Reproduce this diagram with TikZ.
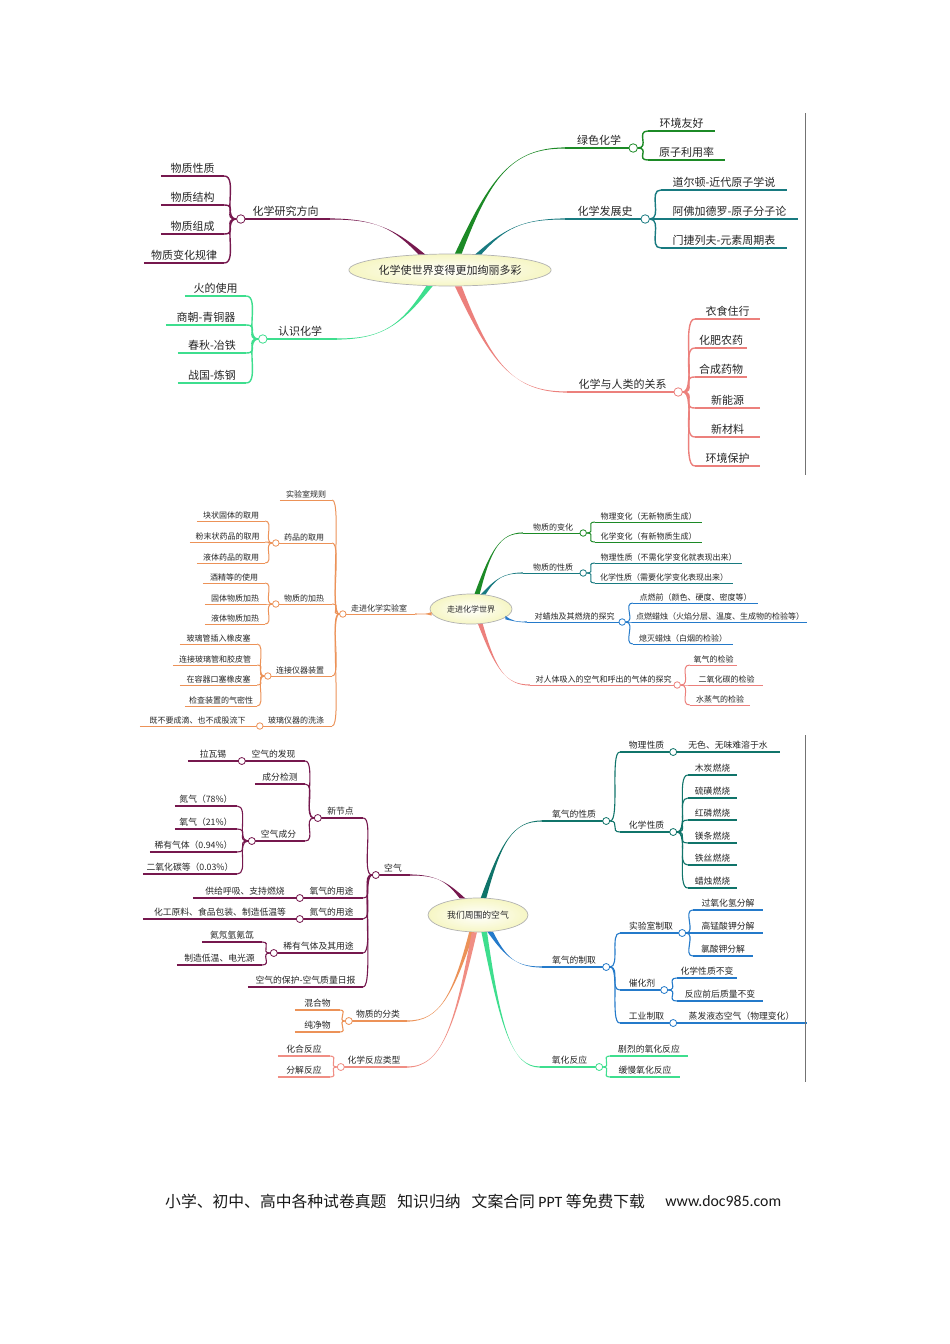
\documentclass[tikz,border=0pt]{standalone}
\usepackage{fontspec}
\setmainfont{Noto Sans CJK SC}
\newfontfamily\latin{Carlito}
\usetikzlibrary{positioning,calc,shapes.geometric}

\definecolor{mgreen}{RGB}{28,138,38}
\definecolor{mteal}{RGB}{24,122,128}
\definecolor{msalmon}{RGB}{236,128,124}
\definecolor{mspring}{RGB}{62,222,142}
\definecolor{mmaroon}{RGB}{118,24,78}
\definecolor{morange}{RGB}{236,146,88}
\definecolor{mblue}{RGB}{36,122,202}
\definecolor{mpine}{RGB}{16,116,106}
\definecolor{mpink}{RGB}{240,142,132}
\definecolor{coreyellow}{RGB}{246,246,196}
\colorlet{br}{black}
\def\tw{1.3pt}
\def\hs{8pt}

% tapered main branch: [start offset]{start}{end}
\newcommand\trunk[3][2.4,0]{%
  \fill[br] ($(#2)-(#1)$) .. controls ($(#2)!0.6!(#2|-#3)!0.3!(#3)$) and ($(#2|-#3)!0.5!(#3)$) .. ($(#3)+(0,-0.6)$)
    -- ($(#3)+(0,0.6)$) .. controls ($(#2|-#3)!0.5!(#3)$) and ($(#2)!0.6!(#2|-#3)!0.3!(#3)$) .. ($(#2)+(#1)$) -- cycle;}

\begin{document}
\begin{tikzpicture}[x=1pt,y=-1pt,
  leaf/.style={anchor=south, inner xsep=0pt, inner ysep=1.8pt, minimum width=#1, text=black!85,
    append after command={(\tikzlastnode.south west) edge[twig] (\tikzlastnode.south east)}},
  twig/.style={draw=br, line width=\tw},
  hub/.style={circle, draw=br, fill=white, inner sep=0pt, minimum size=\hs, line width=0.8pt},
  forkR/.style={twig, out=0, in=180, distance=#1},
  forkL/.style={twig, out=180, in=0, distance=#1},
  core/.style={ellipse, draw=black!30, line width=0.7pt, shade, inner color=white, outer color=coreyellow, inner sep=0pt, text=black!85},
  frame/.style={draw=black!55, line width=0.8pt}]

\useasboundingbox[fill=white] (0,0) rectangle (950,1344);

%% map 1
\begin{scope}[every node/.append style={font=\fontsize{11}{13}\selectfont}, leaf/.append style={inner ysep=2.6pt}]
\def\tw{1.4pt}\def\hs{8.5pt}
\node[core, minimum width=196, minimum height=32] (c1) at (450,270) {化学使世界变得更加绚丽多彩};
% 绿色化学
\colorlet{br}{mgreen}
\node[leaf=68] (gc) at (599,148) {绿色化学};
\trunk[3.4,0]{c1.63}{gc.south west}
\node[hub] (gch) at (gc.south east) {};
\node[leaf=67] (gc1) at (681.5,131) {环境友好};
\node[leaf=77] (gc2) at (686.5,160) {原子利用率};
\foreach \k in {1,2} \draw[forkR=12pt] (gch) to (gc\k.south west);
% 化学发展史
\colorlet{br}{mteal}
\node[leaf=80] (fz) at (605,219) {化学发展史};
\trunk[3,0]{c1.29}{fz.south west}
\node[hub] (fzh) at (fz.south east) {};
\node[leaf=126] (fz1) at (724,190) {道尔顿-近代原子学说};
\node[leaf=137] (fz2) at (729.5,219) {阿佛加德罗-原子分子论};
\node[leaf=126] (fz3) at (724,248) {门捷列夫-元素周期表};
\foreach \k in {1,2,3} \draw[forkR=13pt] (fzh) to (fz\k.south west);
% 化学与人类的关系
\colorlet{br}{msalmon}
\node[leaf=111] (rl) at (622.5,392) {化学与人类的关系};
\trunk[3.4,0]{c1.297}{rl.south west}
\node[hub] (rlh) at (rl.south east) {};
\node[leaf=65] (rl1) at (727.5,319) {衣食住行};
\node[leaf=52] (rl2) at (721,348) {化肥农药};
\node[leaf=52] (rl3) at (721,377) {合成药物};
\node[leaf=65] (rl4) at (727.5,408) {新能源};
\node[leaf=65] (rl5) at (727.5,437) {新材料};
\node[leaf=65] (rl6) at (727.5,466) {环境保护};
\foreach \k in {1,...,6} \draw[forkR=14pt] (rlh) to (rl\k.south west);
% 化学研究方向
\colorlet{br}{mmaroon}
\node[leaf=89] (yf) at (285.5,219) {化学研究方向};
\trunk[3.4,0]{c1.151}{yf.south east}
\node[hub] (yfh) at (yf.south west) {};
\node[leaf=63] (yf1) at (192.5,176) {物质性质};
\node[leaf=63] (yf2) at (192.5,205) {物质结构};
\node[leaf=63] (yf3) at (192.5,234) {物质组成};
\node[leaf=80] (yf4) at (184,263) {物质变化规律};
\foreach \k in {1,...,4} \draw[forkL=14pt] (yfh) to (yf\k.south east);
% 认识化学
\colorlet{br}{mspring}
\node[leaf=74] (rs) at (300,339) {认识化学};
\trunk[3.2,0]{c1.218}{rs.south east}
\node[hub] (rsh) at (rs.south west) {};
\node[leaf=61] (rs1) at (215.5,296) {火的使用};
\node[leaf=80] (rs2) at (206,325) {商朝-青铜器};
\node[leaf=68] (rs3) at (212,353) {春秋-冶铁};
\node[leaf=68] (rs4) at (212,383) {战国-炼钢};
\foreach \k in {1,...,4} \draw[forkL=14pt] (rsh) to (rs\k.south east);
\end{scope}
\draw[frame] (805,113) -- (805,475);

%% map 2
\begin{scope}[every node/.append style={font=\fontsize{8}{10}\selectfont}]
\def\tw{1pt}\def\hs{6.5pt}
\node[core, minimum width=82, minimum height=30] (c2) at (471,609) {走进化学世界};
% 走进化学实验室
\colorlet{br}{morange}
\node[leaf=72] (sy) at (379,614) {走进化学实验室};
\trunk[0,1.8]{c2.187}{sy.south east}
\node[hub] (syh) at (sy.south west) {};
\node[leaf=52] (sy1) at (306,500) {实验室规则};
\node[leaf=56] (sy2) at (304,543) {药品的取用};
\node[leaf=56] (sy3) at (304,604) {物质的加热};
\node[leaf=64] (sy4) at (300,676) {连接仪器装置};
\node[leaf=72] (sy5) at (296,726) {玻璃仪器的洗涤};
\foreach \k in {1,...,5} \draw[forkL=10pt] (syh) to (sy\k.south east);
\foreach \k in {2,...,5} \node[hub] (sy\k h) at (sy\k.south west) {};
\node[leaf=68] (yp1) at (231,521) {块状固体的取用};
\node[leaf=75] (yp2) at (227.5,542) {粉末状药品的取用};
\node[leaf=68] (yp3) at (231,563) {液体药品的取用};
\foreach \k in {1,2,3} \draw[forkL=9pt] (sy2h) to (yp\k.south east);
\node[leaf=62] (jr1) at (234,583) {酒精等的使用};
\node[leaf=60] (jr2) at (235,604) {固体物质加热};
\node[leaf=60] (jr3) at (235,624) {液体物质加热};
\foreach \k in {1,2,3} \draw[forkL=9pt] (sy3h) to (jr\k.south east);
\node[leaf=77] (lj1) at (218.5,644) {玻璃管插入橡皮塞};
\node[leaf=84] (lj2) at (215,665) {连接玻璃管和胶皮管};
\node[leaf=77] (lj3) at (218.5,685) {在容器口塞橡皮塞};
\node[leaf=72] (lj4) at (221,706) {检查装置的气密性};
\foreach \k in {1,...,4} \draw[forkL=9pt] (sy4h) to (lj\k.south east);
\node[leaf=115] (xd1) at (197.5,726) {既不要成滴、也不成股流下};
\draw[twig] (sy5h) -- (xd1.south east);
% 物质的变化
\colorlet{br}{mgreen}
\node[leaf=60] (bh) at (553,533) {物质的变化};
\trunk[2.6,0]{c2.68}{bh.south west}
\node[hub] (bhh) at (bh.south east) {};
\node[leaf=107] (bh1) at (648.5,522) {物理变化（无新物质生成）};
\node[leaf=107] (bh2) at (648.5,542) {化学变化（有新物质生成）};
\foreach \k in {1,2} \draw[forkR=10pt] (bhh) to (bh\k.south west);
% 物质的性质
\colorlet{br}{mteal}
\node[leaf=60] (xz) at (553,573) {物质的性质};
\trunk[2.4,0]{c2.50}{xz.south west}
\node[hub] (xzh) at (xz.south east) {};
\node[leaf=147] (xz1) at (668.5,563) {物理性质（不需化学变化就表现出来）};
\node[leaf=138] (xz2) at (664,583) {化学性质（需要化学变化表现出来）};
\foreach \k in {1,2} \draw[forkR=10pt] (xzh) to (xz\k.south west);
% 对蜡烛及其燃烧的探究
\colorlet{br}{mblue}
\node[leaf=95] (lz) at (574.5,622) {对蜡烛及其燃烧的探究};
\trunk[0,1.8]{c2.346}{lz.south west}
\node[hub] (lzh) at (lz.south east) {};
\node[leaf=125] (lz1) at (695.5,603) {点燃前（颜色、硬度、密度等）};
\node[leaf=174] (lz2) at (720,622) {点燃蜡烛（火焰分层、温度、生成物的检验等）};
\node[leaf=100] (lz3) at (683,644) {熄灭蜡烛（白烟的检验）};
\foreach \k in {1,2,3} \draw[forkR=10pt] (lzh) to (lz\k.south west);
% 对人体吸入的空气和呼出的气体的探究
\colorlet{br}{msalmon}
\node[leaf=147] (rt) at (603.5,685) {对人体吸入的空气和呼出的气体的探究};
\trunk[2.4,0]{c2.302}{rt.south west}
\node[hub] (rth) at (rt.south east) {};
\node[leaf=47] (rt1) at (713.5,665) {氧气的检验};
\node[leaf=73] (rt2) at (726.5,685) {二氧化碳的检验};
\node[leaf=60] (rt3) at (720,705) {水蒸气的检验};
\foreach \k in {1,2,3} \draw[forkR=11pt] (rth) to (rt\k.south west);
\end{scope}

%% map 3
\begin{scope}[every node/.append style={font=\fontsize{8.8}{10.5}\selectfont}, leaf/.append style={inner ysep=2.3pt}]
\def\tw{1.1pt}\def\hs{7pt}
\node[core, minimum width=100, minimum height=34] (c3) at (478,915) {我们周围的空气};
% 空气
\colorlet{br}{mmaroon}
\node[leaf=34] (kq) at (393,875) {空气};
\trunk[2.8,0]{c3.133}{kq.south east}
\node[hub] (kqh) at (kq.south west) {};
\node[leaf=45] (kq1) at (340.5,818) {新节点};
\node[leaf=63] (kq2) at (331.5,898) {氧气的用途};
\node[leaf=63] (kq3) at (331.5,919) {氮气的用途};
\node[leaf=89] (kq4) at (318.5,953) {稀有气体及其用途};
\node[leaf=115] (kq5) at (305.5,987) {空气的保护-空气质量日报};
\foreach \k in {1,...,5} \draw[forkL=11pt] (kqh) to (kq\k.south east);
\foreach \k in {1,...,4} \node[hub] (kq\k h) at (kq\k.south west) {};
\node[leaf=63] (xj1) at (273.5,761) {空气的发现};
\node[leaf=50] (xj2) at (280,784) {成分检测};
\node[leaf=53] (xj3) at (278.5,841) {空气成分};
\foreach \k in {1,2,3} \draw[forkL=11pt] (kq1h) to (xj\k.south east);
\node[hub] (xj1h) at (xj1.south west) {};
\node[hub] (xj3h) at (xj3.south west) {};
\node[leaf=50] (fx1) at (213,761) {拉瓦锡};
\draw[twig] (xj1h) -- (fx1.south east);
\node[leaf=62] (cf1) at (206,806) {氮气（78\%）};
\node[leaf=62] (cf2) at (206,829) {氧气（21\%）};
\node[leaf=87] (cf3) at (193.5,852) {稀有气体（0.94\%）};
\node[leaf=94] (cf4) at (190,874) {二氧化碳等（0.03\%）};
\foreach \k in {1,...,4} \draw[forkL=12pt] (xj3h) to (cf\k.south east);
\node[leaf=104] (yq1) at (245,898) {供给呼吸、支持燃烧};
\draw[twig] (kq2h) -- (yq1.south east);
\node[leaf=154] (dq1) at (220,919) {化工原料、食品包装、制造低温等};
\draw[twig] (kq3h) -- (dq1.south east);
\node[leaf=60] (xy1) at (232,942) {氦氖氩氪氙};
\node[leaf=85] (xy2) at (219.5,965) {制造低温、电光源};
\foreach \k in {1,2} \draw[forkL=10pt] (kq4h) to (xy\k.south east);
% 物质的分类
\colorlet{br}{morange}
\node[leaf=58] (fl) at (378,1021) {物质的分类};
\trunk[2.6,0]{c3.250}{fl.south east}
\node[hub] (flh) at (fl.south west) {};
\node[leaf=45] (fl1) at (317.5,1010) {混合物};
\node[leaf=45] (fl2) at (317.5,1032) {纯净物};
\foreach \k in {1,2} \draw[forkL=8pt] (flh) to (fl\k.south east);
% 化学反应类型
\colorlet{br}{mpink}
\node[leaf=66] (lx) at (374,1067) {化学反应类型};
\trunk[2.6,0]{c3.258}{lx.south east}
\node[hub] (lxh) at (lx.south west) {};
\node[leaf=52] (lx1) at (304,1056) {化合反应};
\node[leaf=52] (lx2) at (304,1077) {分解反应};
\foreach \k in {1,2} \draw[forkL=9pt] (lxh) to (lx\k.south east);
% 氧气的性质
\colorlet{br}{mpine}
\node[leaf=64] (yx) at (574,821) {氧气的性质};
\trunk[2.8,0]{c3.72}{yx.south west}
\node[hub] (yxh) at (yx.south east) {};
\node[leaf=53] (yx1) at (646.5,752) {物理性质};
\node[leaf=53] (yx2) at (646.5,832) {化学性质};
\foreach \k in {1,2} \draw[forkR=10pt] (yxh) to (yx\k.south west);
\foreach \k in {1,2} \node[hub] (yx\k h) at (yx\k.south east) {};
\node[leaf=104] (wl1) at (728,752) {无色、无味难溶于水};
\draw[twig] (yx1h) -- (wl1.south west);
\foreach \k/\t/\y in {1/木炭燃烧/775, 2/硫磺燃烧/798, 3/红磷燃烧/820, 4/镁条燃烧/843, 5/铁丝燃烧/865, 6/蜡烛燃烧/888}
  \node[leaf=49] (hx\k) at (712.5,\y) {\t};
\foreach \k in {1,...,6} \draw[forkR=12pt] (yx2h) to (hx\k.south west);
% 氧气的制取
\colorlet{br}{mblue}
\node[leaf=64] (zq) at (574,967) {氧气的制取};
\trunk[2.8,0]{c3.306}{zq.south west}
\node[hub] (zqh) at (zq.south east) {};
\node[leaf=62] (zq1) at (651,933) {实验室制取};
\node[leaf=44] (zq2) at (642,990) {催化剂};
\node[leaf=53] (zq3) at (646.5,1023) {工业制取};
\foreach \k in {1,2,3} \draw[forkR=10pt] (zqh) to (zq\k.south west);
\foreach \k in {1,2,3} \node[hub] (zq\k h) at (zq\k.south east) {};
\node[leaf=70] (sz1) at (728,910) {过氧化氢分解};
\node[leaf=70] (sz2) at (728,933) {高锰酸钾分解};
\node[leaf=60] (sz3) at (723,956) {氯酸钾分解};
\foreach \k in {1,2,3} \draw[forkR=10pt] (zq1h) to (sz\k.south west);
\node[leaf=60] (ch1) at (707,978) {化学性质不变};
\node[leaf=86] (ch2) at (720,1001) {反应前后质量不变};
\foreach \k in {1,2} \draw[forkR=11pt] (zq2h) to (ch\k.south west);
\node[leaf=131] (gy1) at (741.5,1023) {蒸发液态空气（物理变化）};
\draw[twig] (zq3h) -- (gy1.south west);
% 氧化反应
\colorlet{br}{mspring}
\node[leaf=59] (yh) at (569.5,1067) {氧化反应};
\trunk[2.8,0]{c3.290}{yh.south west}
\node[hub] (yhh) at (yh.south east) {};
\node[leaf=78] (yh1) at (649,1056) {剧烈的氧化反应};
\node[leaf=70] (yh2) at (645,1077) {缓慢氧化反应};
\foreach \k in {1,2} \draw[forkR=9pt] (yhh) to (yh\k.south west);
\end{scope}
\draw[frame] (805,735) -- (805,1082);

% footer
\node[anchor=west, inner sep=0pt, font=\fontsize{15.8}{18}\selectfont, text=black!90] (foot) at (165,1201)
  {小学、初中、高中各种试卷真题\hspace{0.7em}知识归纳\hspace{0.7em}文案合同 {\latin PPT} 等免费下载};
\node[right=20pt of foot, inner sep=0pt, font=\latin\fontsize{15.8}{18}\selectfont, text=black!90] (url) {www.doc985.com};
\end{tikzpicture}
\end{document}
